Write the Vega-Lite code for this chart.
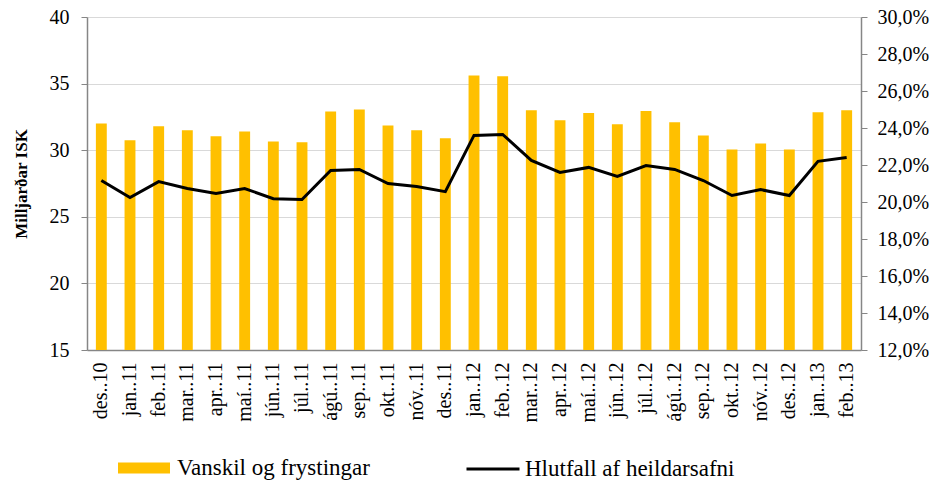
{
  "$schema": "https://vega.github.io/schema/vega-lite/v6.json",
  "width": 774,
  "height": 333,
  "autosize": {"type": "none"},
  "padding": {"left": 87, "top": 17, "right": 74, "bottom": 132},
  "background": "white",
  "config": {
    "font": "Liberation Serif, Times New Roman, serif",
    "view": {"stroke": null},
    "axis": {"labelFont": "Liberation Serif, Times New Roman, serif", "titleFont": "Liberation Serif, Times New Roman, serif", "labelColor": "black", "titleColor": "black", "domainColor": "#868686", "tickColor": "#868686", "gridColor": "#D9D9D9"},
    "legend": {"labelFont": "Liberation Serif, Times New Roman, serif", "labelColor": "black", "padding": 0, "labelLimit": 400}
  },
  "data": {
    "values": [
      {"m": "des..10", "v": 32.0, "p": 21.16},
      {"m": "jan..11", "v": 30.75, "p": 20.24},
      {"m": "feb..11", "v": 31.8, "p": 21.1},
      {"m": "mar..11", "v": 31.5, "p": 20.73},
      {"m": "apr..11", "v": 31.05, "p": 20.46},
      {"m": "maí..11", "v": 31.4, "p": 20.73},
      {"m": "jún..11", "v": 30.65, "p": 20.18},
      {"m": "júl..11", "v": 30.6, "p": 20.13},
      {"m": "ágú..11", "v": 32.9, "p": 21.7},
      {"m": "sep..11", "v": 33.05, "p": 21.76},
      {"m": "okt..11", "v": 31.85, "p": 21.0},
      {"m": "nóv..11", "v": 31.5, "p": 20.84},
      {"m": "des..11", "v": 30.9, "p": 20.56},
      {"m": "jan..12", "v": 35.6, "p": 23.6},
      {"m": "feb..12", "v": 35.55, "p": 23.65},
      {"m": "mar..12", "v": 33.0, "p": 22.25},
      {"m": "apr..12", "v": 32.25, "p": 21.6},
      {"m": "maí..12", "v": 32.8, "p": 21.87},
      {"m": "jún..12", "v": 31.95, "p": 21.38},
      {"m": "júl..12", "v": 32.95, "p": 21.97},
      {"m": "ágú..12", "v": 32.1, "p": 21.76},
      {"m": "sep..12", "v": 31.1, "p": 21.16},
      {"m": "okt..12", "v": 30.05, "p": 20.35},
      {"m": "nóv..12", "v": 30.5, "p": 20.67},
      {"m": "des..12", "v": 30.05, "p": 20.35},
      {"m": "jan..13", "v": 32.85, "p": 22.2},
      {"m": "feb..13", "v": 33.0, "p": 22.4}
    ]
  },
  "encoding": {
    "x": {
      "field": "m", "type": "nominal", "sort": null,
      "scale": {"paddingInner": 0.62, "paddingOuter": 0.31},
      "axis": {"title": null, "labelAngle": -90, "labelFontSize": 20, "ticks": false, "labelPadding": 12, "domainColor": "#868686", "domainWidth": 1.5}
    }
  },
  "layer": [
    {
      "mark": {"type": "bar"},
      "encoding": {
        "y": {
          "field": "v", "type": "quantitative",
          "scale": {"domain": [15, 40], "zero": false, "nice": false},
          "axis": {"title": "Milljarðar ISK", "titleFontSize": 17, "titleFontWeight": "bold", "titlePadding": 19, "labelFontSize": 20, "values": [15, 20, 25, 30, 35, 40], "tickSize": 6, "labelPadding": 12, "grid": true, "domainWidth": 1.5}
        },
        "y2": {"datum": 15},
        "fill": {
          "datum": "Vanskil og frystingar",
          "scale": {"range": ["#FFC000"]},
          "legend": {"title": null, "orient": "none", "legendX": 30, "legendY": 424, "symbolType": "M-1,-0.21H1V0.21H-1Z", "symbolSize": 2704, "labelFontSize": 23, "labelOffset": 6}
        }
      }
    },
    {
      "mark": {"type": "line", "strokeWidth": 3},
      "encoding": {
        "y": {
          "field": "p", "type": "quantitative",
          "scale": {"domain": [12, 30], "zero": false, "nice": false},
          "axis": {"title": null, "orient": "right", "labelFontSize": 20, "values": [12, 14, 16, 18, 20, 22, 24, 26, 28, 30], "labelExpr": "replace(format(datum.value, '.1f'), '.', ',') + '%'", "tickSize": 6, "labelPadding": 10, "grid": false, "domainWidth": 1.5}
        },
        "stroke": {
          "datum": "Hlutfall af heildarsafni",
          "scale": {"range": ["black"]},
          "legend": {"title": null, "orient": "none", "legendX": 378, "legendY": 424, "symbolType": "stroke", "symbolSize": 2809, "symbolStrokeWidth": 3, "labelFontSize": 23, "labelOffset": 4}
        }
      }
    }
  ],
  "resolve": {"scale": {"y": "independent"}}
}
